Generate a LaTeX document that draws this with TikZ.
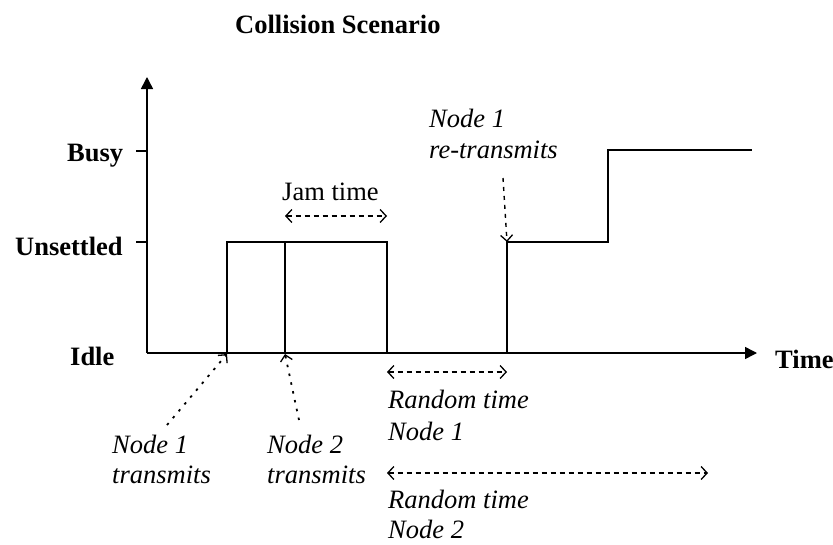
\documentclass[tikz,border=0pt]{standalone}
\usepackage{fontspec}
\setmainfont{Liberation Serif}
\usetikzlibrary{arrows.meta}

\begin{document}
\begin{tikzpicture}[x=1pt,y=-1pt,
  txt/.style={inner sep=0pt,anchor=base west,font=\fontsize{26.5}{31}\selectfont},
  bold/.style={txt,font=\fontsize{26.5}{31}\selectfont\bfseries},
  ital/.style={txt,font=\fontsize{26.5}{31}\selectfont\itshape},
  wave/.style={line width=1.5pt,line join=miter},
  axis/.style={line width=1.5pt,-{Triangle[length=12pt,width=12pt]}},
  span/.style={line width=1.2pt,dash pattern=on 5pt off 4pt,
    {Straight Barb[length=6pt,width=13pt,line width=1.3pt]}-{Straight Barb[length=6pt,width=13pt,line width=1.3pt]}},
  pointer/.style={line width=1.8pt,dash pattern=on 2.5pt off 6.5pt,
    -{Straight Barb[length=6pt,width=12pt,line width=1.3pt]}},
  pointerdash/.style={line width=1.4pt,dash pattern=on 4pt off 5pt,
    -{Straight Barb[length=6pt,width=12pt,line width=1.3pt]}}]
\useasboundingbox (0,0) rectangle (833,544);

% axes
\coordinate (O) at (147,353);
\coordinate (Ytop) at (147,77);
\coordinate (Xend) at (757,353);
\draw[axis] (O) -- (Ytop);
\draw[axis] (O) -- (Xend);

% state ticks
\coordinate (busyT) at (136,151);
\coordinate (busyA) at (147,151);
\coordinate (unsT) at (136,242);
\coordinate (unsA) at (147,242);
\draw[line width=1.3pt] (busyT) -- (busyA);
\draw[line width=1.3pt] (unsT) -- (unsA);

% first transmission and collision
\coordinate (t1) at (227,353);
\coordinate (t1u) at (227,242);
\coordinate (t2) at (285,353);
\coordinate (t2u) at (285,242);
\coordinate (jamEu) at (387,242);
\coordinate (jamE) at (387,353);
\draw[wave] (t1) -- (t1u) -- (jamEu) -- (jamE);
\draw[wave] (t2u) -- (t2);

% retransmission of node 1
\coordinate (r1) at (507,353);
\coordinate (r1u) at (507,242);
\coordinate (bsy0) at (608,242);
\coordinate (bsy1) at (608,150);
\coordinate (bsyE) at (752,150);
\draw[wave] (r1) -- (r1u) -- (bsy0) -- (bsy1) -- (bsyE);

% spans
\coordinate (jamA) at (285,216);
\coordinate (jamB) at (387,216);
\draw[span] (jamA) -- (jamB);
\coordinate (rnd1A) at (387,372);
\coordinate (rnd1B) at (507,372);
\draw[span] (rnd1A) -- (rnd1B);
\coordinate (rnd2A) at (387,473);
\coordinate (rnd2B) at (708,473);
\draw[span] (rnd2A) -- (rnd2B);

% pointers
\coordinate (p1) at (167,425);
\coordinate (p1e) at (227,354);
\draw[pointer] (p1) -- (p1e);
\coordinate (p2) at (299,420);
\coordinate (p2e) at (285,354);
\draw[pointer] (p2) -- (p2e);
\coordinate (p3) at (503,178);
\coordinate (p3e) at (507,242);
\draw[pointerdash] (p3) -- (p3e);

% labels
\node[bold] (title) at (235,33) {Collision Scenario};
\node[bold] (busy) at (67,161) {Busy};
\node[bold] (unsettled) at (15,255) {Unsettled};
\node[bold] (idle) at (70,365) {Idle};
\node[bold] (time) at (775,368) {Time};
\node[txt] (jam) at (282,200) {Jam time};
\node[ital] (rtA) at (429,127) {Node 1};
\node[ital] (rtB) at (429,158) {re-transmits};
\node[ital] (n1A) at (112,453) {Node 1};
\node[ital] (n1B) at (112,483) {transmits};
\node[ital] (n2A) at (267,453) {Node 2};
\node[ital] (n2B) at (267,483) {transmits};
\node[ital] (rnd1T) at (388,408) {Random time};
\node[ital] (rnd1N) at (388,440) {Node 1};
\node[ital] (rnd2T) at (388,508) {Random time};
\node[ital] (rnd2N) at (388,538) {Node 2};
\end{tikzpicture}
\end{document}
